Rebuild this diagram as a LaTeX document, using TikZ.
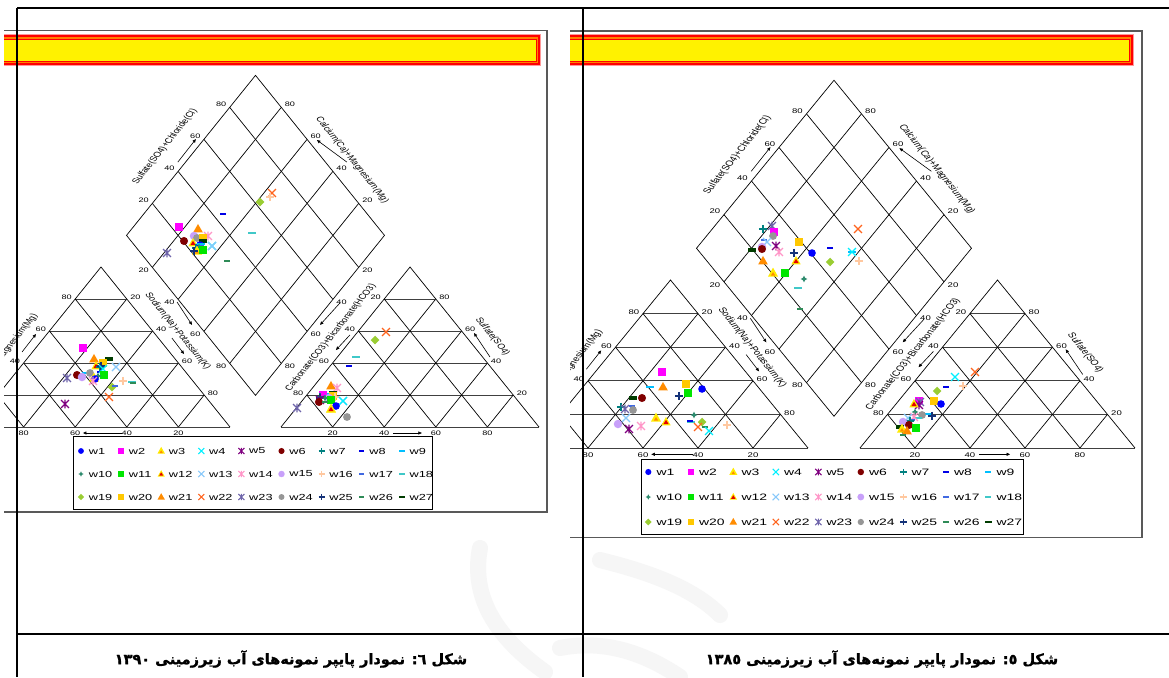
\documentclass[tikz,border=0pt]{standalone}
\usepackage{fontspec}
\setmainfont{Liberation Sans}
\newfontfamily\fa[Script=Arabic,BoldFeatures={FakeBold=1.2}]{DejaVu Sans}
\TeXXeTstate=1
\usetikzlibrary{arrows.meta}
\definecolor{cw1}{RGB}{0,0,255}
\definecolor{cw2}{RGB}{255,0,255}
\definecolor{cw3}{RGB}{255,235,0}
\definecolor{cw4}{RGB}{0,240,255}
\definecolor{cw5}{RGB}{128,0,128}
\definecolor{cw6}{RGB}{128,0,0}
\definecolor{cw7}{RGB}{0,128,128}
\definecolor{cw8}{RGB}{0,0,230}
\definecolor{cw9}{RGB}{0,191,255}
\definecolor{cw10}{RGB}{46,139,110}
\definecolor{cw11}{RGB}{0,230,0}
\definecolor{cw12}{RGB}{230,0,0}
\definecolor{cw13}{RGB}{135,200,250}
\definecolor{cw14}{RGB}{255,150,200}
\definecolor{cw15}{RGB}{200,160,250}
\definecolor{cw16}{RGB}{255,200,160}
\definecolor{cw17}{RGB}{65,105,225}
\definecolor{cw18}{RGB}{64,200,200}
\definecolor{cw19}{RGB}{154,205,50}
\definecolor{cw20}{RGB}{255,200,0}
\definecolor{cw21}{RGB}{255,140,0}
\definecolor{cw22}{RGB}{255,100,30}
\definecolor{cw23}{RGB}{110,100,170}
\definecolor{cw24}{RGB}{150,150,150}
\definecolor{cw25}{RGB}{20,50,120}
\definecolor{cw26}{RGB}{46,139,87}
\definecolor{cw27}{RGB}{0,60,0}
\def\ticksz{6.5}\def\ttlsz{7.3}
\tikzset{
  grid/.style={line width=0.7pt, black},
  hgrid/.style={line width=1pt, black!75},
  tick/.style={font=\fontsize{\ticksz}{7}\selectfont, xscale=1.4, inner sep=0.5pt},
  ttl/.style={font=\fontsize{\ttlsz}{8}\selectfont, xscale=1.4, inner sep=0pt},
  arr/.style={-{Triangle[length=3.5pt,width=3pt]}, line width=0.6pt},
  legl/.style={font=\fontsize{8.8}{10}\selectfont, xscale=1.45, anchor=west, inner sep=0pt},
  legr/.style={font=\fontsize{9.3}{10}\selectfont, xscale=1.5, anchor=west, inner sep=0pt},
  w1/.pic={\fill[cw1] (0,0) circle[radius=3.4pt];},
  w2/.pic={\fill[cw2] (-3.6,-3.6) rectangle (3.6,3.6);},
  w3/.pic={\fill[cw3] (0,-4.8) -- (4.5,3.2) -- (-4.5,3.2) -- cycle; \fill[cw21] (0,-0.8) -- (2,2.4) -- (-2,2.4) -- cycle;},
  w4/.pic={\draw[cw4,line width=1.1pt] (-3.5,-3.5) -- (3.5,3.5) (-3.5,3.5) -- (3.5,-3.5);},
  w5/.pic={\draw[cw5,line width=1.1pt] (-3.5,-3.5) -- (3.5,3.5) (-3.5,3.5) -- (3.5,-3.5) (0,-3.8) -- (0,3.8);},
  w6/.pic={\fill[cw6] (0,0) circle[radius=3.6pt];},
  w7/.pic={\draw[cw7,line width=1.1pt] (-3.6,0) -- (3.6,0) (0,-3.6) -- (0,3.6);},
  w8/.pic={\fill[cw8] (-3,-1.3) rectangle (3,1.3);},
  w9/.pic={\fill[cw9] (-3.5,-1.3) rectangle (3.5,1.3);},
  w10/.pic={\fill[cw10] (0,-3) -- (1,-1) -- (3,0) -- (1,1) -- (0,3) -- (-1,1) -- (-3,0) -- (-1,-1) -- cycle;},
  w11/.pic={\fill[cw11] (-3.5,-3.5) rectangle (3.5,3.5);},
  w12/.pic={\fill[cw3] (0,-4.5) -- (4.2,3) -- (-4.2,3) -- cycle; \fill[cw12] (0,-2) -- (2.4,2) -- (-2.4,2) -- cycle;},
  w13/.pic={\draw[cw13,line width=1.1pt] (-3.6,-3.6) -- (3.6,3.6) (-3.6,3.6) -- (3.6,-3.6);},
  w14/.pic={\draw[cw14,line width=1.1pt] (-3.5,-3.5) -- (3.5,3.5) (-3.5,3.5) -- (3.5,-3.5) (0,-3.8) -- (0,3.8);},
  w15/.pic={\fill[cw15] (0,0) circle[radius=3.8pt];},
  w16/.pic={\draw[cw16,line width=1.1pt] (-3.6,0) -- (3.6,0) (0,-3.6) -- (0,3.6);},
  w17/.pic={\fill[cw17] (-3,-1.3) rectangle (3,1.3);},
  w18/.pic={\fill[cw18] (-3.5,-1.3) rectangle (3.5,1.3);},
  w19/.pic={\fill[cw19] (0,-3.8) -- (3.8,0) -- (0,3.8) -- (-3.8,0) -- cycle;},
  w20/.pic={\fill[cw20] (-3.6,-3.6) rectangle (3.6,3.6);},
  w21/.pic={\fill[cw21] (0,-4.5) -- (4.3,3) -- (-4.3,3) -- cycle;},
  w22/.pic={\draw[cw22,line width=1.1pt] (-3.5,-3.5) -- (3.5,3.5) (-3.5,3.5) -- (3.5,-3.5);},
  w23/.pic={\draw[cw23,line width=1.1pt] (-3.5,-3.5) -- (3.5,3.5) (-3.5,3.5) -- (3.5,-3.5) (0,-3.8) -- (0,3.8);},
  w24/.pic={\fill[cw24] (0,0) circle[radius=3.5pt];},
  w25/.pic={\draw[cw25,line width=1.1pt] (-3.6,0) -- (3.6,0) (0,-3.6) -- (0,3.6);},
  w26/.pic={\fill[cw26] (-3,-1.3) rectangle (3,1.3);},
  w27/.pic={\fill[cw27] (-3.8,-1.4) rectangle (3.8,1.4);}
}
\newcommand\tri[3]{%
  \foreach \v in {0.2,0.4,0.6,0.8}{
    \draw[hgrid] ({\v/2},\v) -- ({1-\v/2},\v);
    \draw[grid] (\v,0) -- ({(1+\v)/2},{1-\v});
    \draw[grid] (\v,0) -- ({\v/2},\v);
  }
  \draw[hgrid] (0,0) -- (1,0);
  \draw[grid] (0,0) -- (0.5,1) -- (1,0);
  \foreach \v/\lab in {#1} \node[tick,anchor=north] at (\v,-0.022) {\lab};
  \foreach \v/\lab in {#2} \node[tick,anchor=east,yshift=1.5pt] at ({\v/2-0.01},\v) {\lab};
  \foreach \v/\lab in {#3} \node[tick,anchor=west,yshift=1.5pt] at ({1-\v/2+0.01},\v) {\lab};
}
\newcommand\piperplot[1]{%
  \pgfmathsetmacro\G{#1}
  % cation triangle
  \begin{scope}
    \tri{0.2/80,0.4/60,0.6/40,0.8/20}{0.2/20,0.4/40,0.6/60,0.8/80}{0.2/80,0.4/60,0.6/40,0.8/20}
    \node[ttl,rotate=60] at (0.174,0.559) {Magnesium(Mg)};
    \draw[arr] (0.194,0.469) -- (0.248,0.581);
    \node[ttl,rotate=-60] at (0.797,0.597) {Sodium(Na)+Potassium(K)};
    \draw[arr] (0.775,0.556) -- (0.822,0.456);
    \draw[arr] (0.581,-0.0375) -- (0.43,-0.0375);
  \end{scope}
  % anion triangle
  \begin{scope}[shift={(1+\G,0)}]
    \tri{0.2/20,0.4/40,0.6/60,0.8/80}{0.2/80,0.4/60,0.6/40,0.8/20}{0.2/20,0.4/40,0.6/60,0.8/80}
    \node[ttl,rotate=60] at (0.193,0.559) {Carbonate(CO3)+Bicarbonate(HCO3)};
    \draw[arr] (0.267,0.575) -- (0.213,0.481);
    \node[ttl,rotate=-60] at (0.819,0.566) {Sulfate(SO4)};
    \draw[arr] (0.810,0.4375) -- (0.748,0.5875);
    \draw[arr] (0.434,-0.0375) -- (0.546,-0.0375);
  \end{scope}
  % diamond
  \begin{scope}[shift={(1+\G/2,\G)}]
    \foreach \f in {0.2,0.4,0.6,0.8}{
      \draw[grid] ({0.5*\f},\f) -- ({0.5*\f-0.5},{\f+1});
      \draw[grid] ({-0.5*\f},\f) -- ({0.5-0.5*\f},{\f+1});
    }
    \draw[grid] (0,0) -- (0.5,1) -- (0,2) -- (-0.5,1) -- cycle;
    \foreach \f/\lab in {0.2/20,0.4/40,0.6/60,0.8/80}{
      \node[tick,anchor=east,yshift=3pt] at ({-0.5+0.5*\f-0.01},{1+\f}) {\lab};
      \node[tick,anchor=west,yshift=3pt] at ({0.5-0.5*\f+0.01},{1+\f}) {\lab};
      \node[tick,anchor=east,yshift=-3pt] at ({-0.5+0.5*\f-0.01},{1-\f}) {\lab};
      \node[tick,anchor=west,yshift=-3pt] at ({0.5-0.5*\f+0.01},{1-\f}) {\lab};
    }
    \node[ttl,rotate=60] at (-0.351,1.555) {Sulfate(SO4)+Chloride(Cl)};
    \draw[arr] (-0.301,1.458) -- (-0.231,1.602);
    \node[ttl,rotate=-60] at (0.374,1.471) {Calcium(Ca)+Magnesium(Mg)};
    \draw[arr] (0.354,1.458) -- (0.238,1.596);
    \draw[arr] (-0.304,0.583) -- (-0.246,0.440);
    \draw[arr] (0.327,0.577) -- (0.250,0.440);
  \end{scope}
}
\newcommand\mks[1]{\foreach \n/\xx/\yy in {#1}{\edef\doit{\noexpand\pic[scale=1.12] at (\xx,\yy) {\n};}\doit}}
\newcommand\ybar[2]{%
  \fill[red!40] (#1,34) rectangle (#2,66);
  \fill[red] (#1,35.3) rectangle ({#2-1.5},64.7);
  \fill[orange] (#1,36.8) rectangle ({#2-3},63.2);
  \fill[yellow] (#1,38.8) rectangle ({#2-4.5},61.2);
  \draw[red,line width=0.5pt] (#1,38.8) -- ({#2-5},38.8) -- ({#2-5},61.2) -- (#1,61.2);
}
\begin{document}
\begin{tikzpicture}[x=1pt,y=-1pt]
\useasboundingbox (0,0) rectangle (1169,677);
\fill[white] (0,0) rectangle (1169,677);
% watermark
\begin{scope}[gray!7, line width=16pt, line cap=round]
  \draw (480,548) .. controls (470,600) and (500,640) .. (545,672);
  \draw (600,560) .. controls (640,570) and (690,585) .. (720,615);
  \draw (560,648) .. controls (600,640) and (640,650) .. (680,677);
\end{scope}
% ---------------- left panel (1390)
\begin{scope}
  \clip (4,0) rectangle (547,677);
  \begin{scope}[shift={(-28pt,-427pt)}, x={(258pt,0pt)}, y={(0pt,160pt)}]
    \piperplot{0.1977}
  \end{scope}
  \mks{w22/272/193, w16/270/197, w19/260/202, w8/223/214, w2/179/227, w21/198/229, w18/252/233, w14/208/236, w15/194/236, w24/197/238, w20/203/238, w27/203/241, w6/184/241, w12/193/243, w1/200/245, w9/201/244, w4/212/246, w13/212/246, w17/201/246, w10/199/247, w7/196/248, w3/197/251, w25/194/251, w11/203/250, w23/167/253, w26/227/261}
  \mks{w2/83/348, w21/94/359, w27/109/359, w20/103/363, w12/96/366, w7/100/367, w8/100/372, w25/101/366, w4/103/369, w13/116/367, w9/86/373, w24/90/373, w6/77/375, w15/82/377, w11/104/375, w10/98/376, w3/94/378, w1/95/379, w14/93/381, w23/67/378, w16/123/381, w18/132/382, w26/133/383, w19/112/387, w17/115/386, w22/109/397, w5/65/404}
  \mks{w22/386/332, w19/375/340, w18/356/357, w8/349/366, w21/331/386, w14/337/388, w27/333/393, w9/327/394, w20/333/396, w2/323/395, w17/327/396, w16/335/397, w7/320/397, w25/320/398, w15/329/398, w10/325/398, w11/331/400, w5/320/400, w6/319/402, w26/325/402, w13/343/401, w4/343/401, w1/336/406, w3/331/409, w12/331/409, w24/347/417, w23/297/408}
\end{scope}
\draw[black!65, line width=1.2pt] (4,30.5) -- (547,30.5) -- (547,512) -- (4,512);
\ybar{4}{541}
\node[draw=black, line width=0.8pt, minimum width=359pt, minimum height=73pt, inner sep=0] (legL) at (252.5,472.5) {};
\foreach \r in {0,1,2}{\foreach \c in {0,...,8}{
  \pgfmathtruncatemacro\n{9*\r+\c+1}
  \pgfmathsetmacro\xx{81+40.1*\c}
  \pgfmathsetmacro\yy{451+23*\r}
  \edef\doit{\noexpand\pic[scale=0.85] at (\xx,\yy) {w\n};}\doit
  \node[legl] at ({\xx+7.5},\yy) {w\n};
}}
% ---------------- right panel (1385)
\def\ticksz{6.8}\def\ttlsz{7.6}
\begin{scope}
  \clip (570,0) rectangle (1142,677);
  \begin{scope}[shift={(533pt,-448pt)}, x={(275pt,0pt)}, y={(0pt,168pt)}]
    \piperplot{0.189}
  \end{scope}
  \mks{w22/858/229, w7/763/229, w23/772/226, w2/774/232, w24/773/236, w20/799/242, w17/764/240, w13/767/242, w5/776/246, w15/762/247, w6/762/249, w27/752/250, w8/830/248, w1/812/253, w25/794/253, w9/852/252, w4/852/252, w14/779/252, w21/763/261, w12/796/261, w19/830/262, w16/859/261, w3/773/273, w11/785/273, w10/804/279, w18/798/288, w26/800/309}
  \mks{w2/662/372, w20/686/384, w21/663/387, w9/650/387, w1/702/389, w11/688/393, w25/679/396, w6/642/398, w27/633/398, w17/632/406, w7/621/407, w23/625/409, w24/633/410, w13/626/418, w3/656/418, w12/666/422, w10/694/415, w15/618/424, w5/629/429, w14/641/426, w18/691/422, w19/702/422, w26/705/427, w22/698/427, w4/709/431, w16/727/425, w8/690/421}
  \mks{w22/975/372, w4/955/377, w16/963/386, w8/946/387, w19/937/391, w20/934/401, w1/941/404, w2/919/401, w23/920/402, w5/919/405, w12/914/404, w10/915/412, w9/927/414, w24/922/415, w25/932/416, w18/918/418, w14/914/417, w13/908/418, w17/912/420, w7/910/421, w15/903/422, w6/909/425, w27/900/427, w11/916/428, w3/902/429, w21/907/431, w26/903/435}
\end{scope}
\draw[black!65, line width=1.2pt] (570,31) -- (1142,31) -- (1142,537.5) -- (570,537.5);
\ybar{570}{1134}
\node[draw=black, line width=0.8pt, minimum width=382pt, minimum height=75pt, inner sep=0] (legR) at (832,496.5) {};
\foreach \r in {0,1,2}{\foreach \c in {0,...,8}{
  \pgfmathtruncatemacro\n{9*\r+\c+1}
  \pgfmathsetmacro\xx{648.3+42.5*\c}
  \pgfmathsetmacro\yy{472+25*\r}
  \edef\doit{\noexpand\pic[scale=0.9] at (\xx,\yy) {w\n};}\doit
  \node[legr] at ({\xx+8},\yy) {w\n};
}}
% ---------------- page frame
\draw[line width=2pt] (17,8) -- (1169,8);
\draw[line width=2pt] (17,8) -- (17,677);
\draw[line width=2pt] (583,8) -- (583,677);
\draw[line width=2pt] (17,634) -- (1169,634);
% captions
\node[font=\fa\bfseries\fontsize{14.5}{16}\selectfont] (capL) at (291,659) {\beginR شکل ٦: نمودار پایپر نمونه‌های آب زیرزمینی \beginL١٣٩٠\endL\endR};
\node[font=\fa\bfseries\fontsize{14.5}{16}\selectfont] (capR) at (882,659) {\beginR شکل ٥: نمودار پایپر نمونه‌های آب زیرزمینی \beginL١٣٨٥\endL\endR};
\end{tikzpicture}
\end{document}
